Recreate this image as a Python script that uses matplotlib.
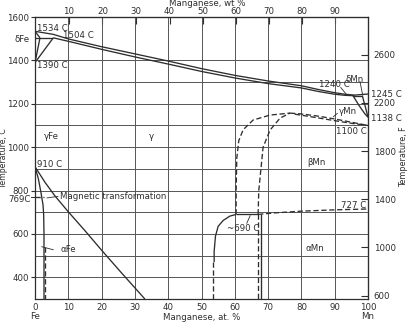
import numpy as np
import matplotlib
matplotlib.use("Agg")
import matplotlib.pyplot as plt

# ---------------- data ----------------
at_ticks = [0, 10, 20, 30, 40, 50, 60, 70, 80, 90, 100]
at_labels = ["0\nFe", "10", "20", "30", "40", "50", "60", "70", "80", "90", "100\nMn"]
wt_ticks = [10, 20, 30, 40, 50, 60, 70, 80, 90]
c_ticks = [400, 600, 800, 1000, 1200, 1400, 1600]
c_labels = ["400", "600", "800", "1000", "1200", "1400", "1600"]
c_grid = [400, 500, 600, 700, 800, 900, 1000, 1100, 1200, 1300, 1400]
f_ticks = [600, 1000, 1400, 1800, 2200, 2600]

liq_x = [0, 5.5, 10, 20, 30, 40, 50, 60, 70, 80, 85, 90, 93, 96, 100]
liq_t = [1534, 1520, 1499, 1463, 1430, 1397, 1362, 1331, 1305, 1283, 1266, 1251, 1244, 1240, 1245]
sol_x = [5.5, 10, 20, 30, 40, 50, 60, 70, 80, 85, 90, 93, 96]
sol_t = [1504, 1488, 1451, 1416, 1383, 1349, 1319, 1293, 1273, 1257, 1244, 1239, 1237]

dsol_x = [0, 1.5];   dsol_t = [1534, 1504]
dsolv_x = [0, 1.5];  dsolv_t = [1390, 1504]
gd_x = [0, 5.5];     gd_t = [1390, 1504]
perit_x = [0, 5.5];  perit_t = [1504, 1504]

alpha_x = [0, 1.0, 1.8, 2.4, 2.6, 2.7, 2.7]
alpha_t = [910, 855, 790, 735, 690, 600, 300]
alpha_d_x = [3.1, 3.1]; alpha_d_t = [540, 300]
gam_a_x = [0, 3, 6, 10, 15, 20, 26, 33]
gam_a_t = [910, 838, 775, 702, 615, 525, 420, 300]
mag_x = [0, 2.6]; mag_t = [769, 769]

bo_x = [60.4, 60.4, 60.6, 61.2, 62.5, 65.5, 70.6, 76.6]
bo_t = [690, 800, 950, 1030, 1080, 1125, 1148, 1157]
bi_x = [67.0, 67.2, 68.5, 70.6, 73.6, 76.6]
bi_t = [690, 800, 1000, 1079, 1134, 1157]
gu_x = [76.6, 80, 85, 90, 95, 100]
gu_t = [1157, 1153, 1143, 1130, 1115, 1100]
gl_x = [78, 85, 90, 95, 100]
gl_t = [1152, 1135, 1122, 1110, 1100]

am_x = [60.4, 58.5, 56.5, 55.0, 54.2, 53.8, 53.8]
am_t = [690, 682, 662, 635, 590, 520, 470]
am_d_x = [53.6, 53.6]; am_d_t = [470, 300]
h690_x = [60.4, 67.0]; h690_t = [690, 690]
v68_x = [67.9, 67.9]; v68_t = [690, 300]
v67_x = [67.0, 67.0]; v67_t = [690, 300]
t727_x = [67.0, 72, 80, 90, 100]; t727_t = [690, 697, 705, 711, 715]

dm1_x = [95.5, 97.4, 99.0, 100]; dm1_t = [1237, 1190, 1155, 1138]
dm2_x = [98.3, 99.3, 100];       dm2_t = [1237, 1180, 1138]
dmh_x = [95.5, 98.3];            dmh_t = [1237, 1237]


def at2wt(a):
    a = np.asarray(a, dtype=float)
    return 100 * a * 54.94 / (a * 54.94 + (100 - a) * 55.85)


def wt2at(w):
    w = np.asarray(w, dtype=float)
    return 100 * (w / 54.94) / (w / 54.94 + (100 - w) / 55.85)


def c2f(c):
    return np.asarray(c, dtype=float) * 9 / 5 + 32


def f2c(f):
    return (np.asarray(f, dtype=float) - 32) * 5 / 9


# ---------------- figure ----------------
plt.rcParams["font.family"] = ["DejaVu Sans"]
ink = "#2e2e2e"
fs = 6.2
fig = plt.figure(figsize=(4.13, 3.22), dpi=100)
ax = fig.add_axes([35 / 413, 1 - 299 / 322, 333 / 413, 282 / 322])
ax.set_xlim(0, 100)
ax.set_ylim(300, 1600)

for s in ax.spines.values():
    s.set_color(ink)
    s.set_linewidth(0.9)

ax.set_xticks(at_ticks)
ax.set_xticklabels(at_labels, fontsize=fs, color=ink, linespacing=1.0)
ax.yaxis.remove_overlapping_locs = False
ax.set_yticks(c_ticks)
ax.set_yticklabels(c_labels, fontsize=fs, color=ink)
ax.set_yticks(c_grid, minor=True)
ax.tick_params(axis="x", length=0, pad=3)
ax.tick_params(axis="y", which="major", length=3, direction="out", pad=1.5, color=ink)
ax.tick_params(axis="y", which="minor", length=0)
ax.grid(axis="x", which="major", color="#555555", lw=0.7)
ax.grid(axis="y", which="minor", color="#555555", lw=0.7)
ax.set_axisbelow(True)

top = ax.secondary_xaxis("top", functions=(at2wt, wt2at))
top.set_xticks(wt_ticks)
top.set_xticklabels([str(v) for v in wt_ticks], fontsize=fs, color=ink)
top.tick_params(length=5, direction="in", pad=0.5, color=ink)
top.spines["top"].set_color(ink)

right = ax.secondary_yaxis("right", functions=(c2f, f2c))
right.set_yticks(f_ticks)
right.set_yticklabels([str(v) for v in f_ticks], fontsize=fs, color=ink)
right.tick_params(length=5, direction="in", pad=4, color=ink)
right.spines["right"].set_color(ink)

lw = 0.95
solid = dict(color=ink, lw=lw, solid_capstyle="butt")
dash = dict(color=ink, lw=lw, ls=(0, (4, 2)))

for xs, ts in [(liq_x, liq_t), (sol_x, sol_t), (dsol_x, dsol_t), (dsolv_x, dsolv_t),
               (gd_x, gd_t), (perit_x, perit_t), (alpha_x, alpha_t), (gam_a_x, gam_a_t),
               (am_x, am_t), (h690_x, h690_t), (v68_x, v68_t),
               (dm1_x, dm1_t), (dm2_x, dm2_t), (dmh_x, dmh_t)]:
    ax.plot(xs, ts, **solid)

for xs, ts in [(alpha_d_x, alpha_d_t), (mag_x, mag_t), (bo_x, bo_t), (bi_x, bi_t),
               (gu_x, gu_t), (gl_x, gl_t), (am_d_x, am_d_t), (v67_x, v67_t),
               (t727_x, t727_t)]:
    ax.plot(xs, ts, **dash)

# leaders
thin = dict(color=ink, lw=0.6)
ax.plot([3.6, 6.9], [766, 773], **thin)          # magnetic transformation
ax.plot([2.0, 5.5], [541, 527], **thin)          # alpha Fe
ax.plot([63.6, 64.6], [649, 684], **thin)        # ~690 C
ax.plot([91.8, 93.6], [1275, 1242], **thin)      # 1240 C
ax.plot([97.6, 98.4], [1302, 1240], **thin)      # delta Mn
ax.plot([89.6, 90.8], [1140, 1156], **thin)      # gamma Mn

# labels in the field
tk = dict(fontsize=fs, color=ink, va="center")
ax.text(0.6, 1549, "1534 C", ha="left", **tk)
ax.text(8.3, 1517, "1504 C", ha="left", **tk)
ax.text(0.6, 1378, "1390 C", ha="left", **tk)
ax.text(0.6, 920, "910 C", ha="left", **tk)
ax.text(7.5, 772, "Magnetic transformation", ha="left", **tk)
ax.text(7.8, 528, "αFe", ha="left", **tk)
ax.text(5.0, 1047, "γFe", ha="center", **tk)
ax.text(35.0, 1047, "γ", ha="center", **tk)
ax.text(84.5, 931, "βMn", ha="center", **tk)
ax.text(84.0, 535, "αMn", ha="center", **tk)
ax.text(62.5, 624, "~690 C", ha="center", **tk)
ax.text(99.6, 733, "727 C", ha="right", **tk)
ax.text(91.2, 1163, "γMn", ha="left", **tk)
ax.text(93.1, 1314, "δMn", ha="left", **tk)
ax.text(85.2, 1287, "1240 C", ha="left", **tk)
ax.text(99.6, 1070, "1100 C", ha="right", **tk)
ax.text(100.8, 1243, "1245 C", ha="left", clip_on=False, **tk)
ax.text(100.8, 1134, "1138 C", ha="left", clip_on=False, **tk)
ax.text(-1.6, 1494, "δFe", ha="right", clip_on=False, **tk)
ax.text(-1.4, 758, "769C", ha="right", clip_on=False, **tk)
ax.plot([-1.3, 0], [769, 769], color=ink, lw=0.7, clip_on=False)

fig.text(3.5 / 413, 1 - 158 / 322, "Temperature, C", rotation=90, ha="center", va="center",
         fontsize=5.6, color=ink)
fig.text(404 / 413, 1 - 157 / 322, "Temperature, F", rotation=90, ha="center", va="center",
         fontsize=5.8, color=ink)
fig.text(202 / 413, 1 - 318 / 322, "Manganese, at. %", ha="center", va="center",
         fontsize=fs, color=ink)
fig.text(207 / 413, 1 - 4 / 322, "Manganese, wt %", ha="center", va="center",
         fontsize=fs, color=ink)

fig.savefig("out.png", dpi=100)
